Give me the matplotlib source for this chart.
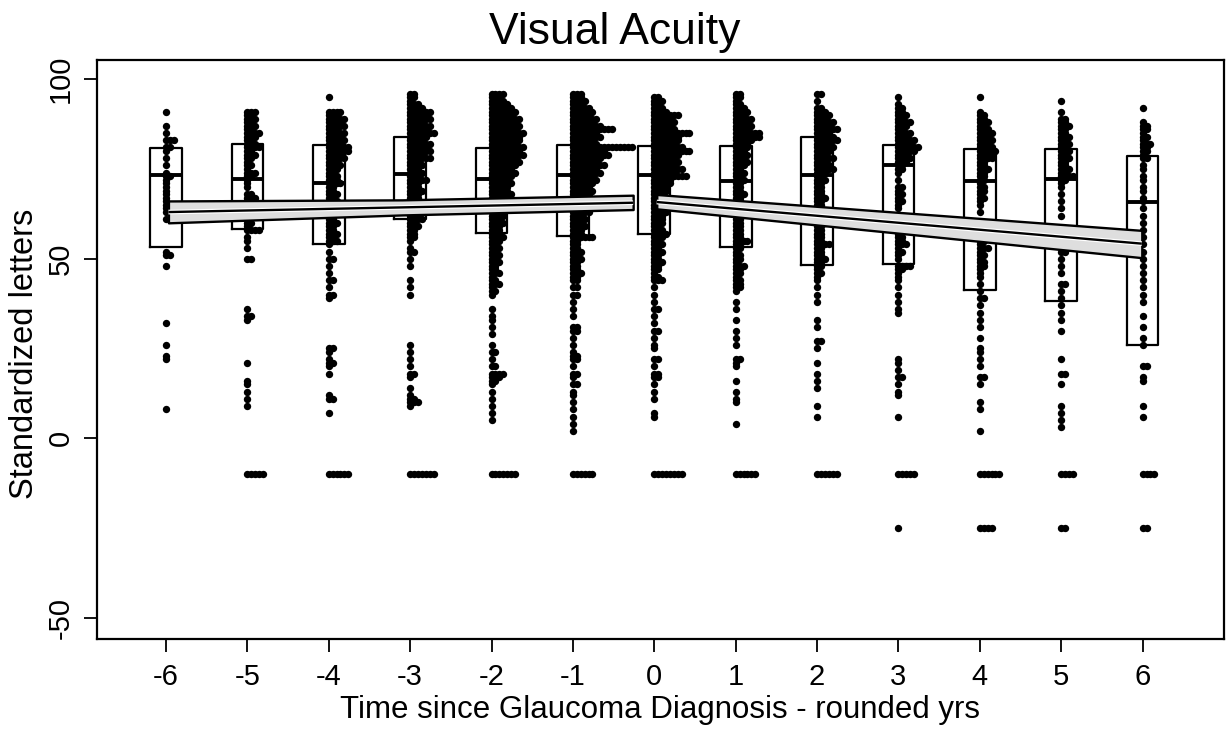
import matplotlib
matplotlib.use('Agg')
import matplotlib.pyplot as plt

plt.rcParams['font.family'] = ['Liberation Sans', 'DejaVu Sans']

# ---------------- data ----------------
years = [-6, -5, -4, -3, -2, -1, 0, 1, 2, 3, 4, 5, 6]

box_q1 = [53.2, 58.2, 54.2, 61.2, 57.2, 56.3, 57.0, 53.2, 48.3, 48.4, 41.3, 38.3, 26.0]
box_med = [73.3, 72.3, 71.0, 73.5, 72.3, 73.3, 73.3, 71.6, 73.3, 76.0, 71.7, 72.3, 65.8]
box_q3 = [80.9, 82.0, 81.6, 83.8, 80.9, 81.6, 81.5, 81.5, 83.8, 81.6, 80.7, 80.7, 78.6]

# (score, number of observations) per rounded year
rows_m6 = [(91,1),(87,1),(85,1),(83,3),(81,2),(80,1),(78,1),(76,1),(74,1),(73,2),(72,1),(71,1),(70,1),(69,1),
           (68,1),(67,1),(66,1),(65,1),(64,1),(63,1),(61,1),(52,1),(51,2),(48,1),(32,1),(26,1),(23,1),(22,1),(8,1)]
rows_m5 = [(91,3),(90,2),(89,3),(88,2),(87,3),(86,2),(85,4),(84,3),(83,2),(82,3),(81,4),(80,2),(79,3),(78,2),
           (77,1),(76,2),(75,1),(74,3),(73,2),(72,1),(71,1),(70,1),(68,2),(67,3),(66,1),(65,2),(64,1),(63,1),
           (62,2),(61,1),(60,2),(59,1),(58,4),(56,1),(55,1),(53,1),(50,2),(36,1),(34,2),(33,1),(21,1),(16,1),
           (15,1),(13,1),(11,1),(9,1),(-10,5)]
rows_m4 = [(95,1),(91,4),(90,3),(89,5),(88,4),(87,5),(86,3),(85,5),(84,4),(83,5),(82,4),(81,6),(80,6),(79,4),
           (78,5),(77,3),(76,4),(75,3),(74,2),(73,3),(72,3),(71,4),(70,2),(69,2),(68,3),(67,2),(66,3),(65,2),
           (64,2),(63,2),(62,2),(61,2),(60,3),(59,2),(58,2),(57,3),(56,2),(55,3),(54,1),(52,1),(50,2),(48,1),
           (46,1),(44,2),(42,1),(40,2),(39,1),(25,2),(24,1),(22,1),(21,2),(20,1),(18,1),(12,1),(11,2),(7,1),(-10,6)]
rows_m3 = [(96,2),(95,2),(94,1),(93,3),(92,4),(91,6),(90,5),(89,6),(88,4),(87,6),(86,5),(85,7),(84,5),(83,4),
           (82,6),(81,5),(80,6),(79,4),(78,6),(77,3),(76,4),(75,3),(74,4),(73,3),(72,5),(71,3),(70,3),(69,4),
           (68,3),(67,3),(66,3),(65,4),(64,3),(63,2),(62,3),(61,4),(60,2),(59,3),(58,2),(57,2),(56,2),(55,1),
           (53,1),(52,2),(50,1),(48,1),(44,1),(42,1),(40,1),(26,1),(24,1),(22,1),(20,1),(18,2),(17,1),(14,1),
           (12,1),(11,2),(10,3),(9,1),(-10,7)]
rows_m2 = [(96,4),(95,3),(94,4),(93,5),(92,6),(91,7),(90,6),(89,8),(88,7),(87,8),(86,7),(85,9),(84,8),(83,8),
           (82,7),(81,9),(80,8),(79,9),(78,7),(77,8),(76,7),(75,6),(74,7),(73,6),(72,5),(71,6),(70,5),(69,5),
           (68,6),(67,5),(66,4),(65,5),(64,4),(63,4),(62,4),(61,3),(60,4),(59,3),(58,3),(57,3),(56,4),(55,3),
           (54,2),(53,3),(52,2),(51,3),(50,2),(49,3),(48,2),(47,2),(46,3),(45,1),(44,2),(43,3),(42,1),(41,2),
           (40,1),(36,1),(34,1),(33,1),(31,1),(29,1),(26,1),(24,2),(22,1),(20,2),(18,4),(17,3),(16,2),(15,1),
           (13,1),(11,1),(9,1),(7,1),(5,1),(-10,7)]
rows_m1 = [(96,3),(95,3),(94,4),(93,3),(92,5),(91,6),(90,5),(89,7),(88,6),(87,8),(86,11),(85,7),(84,8),(83,6),
           (82,7),(81,16),(80,9),(79,10),(78,8),(77,7),(76,9),(75,7),(74,8),(73,6),(72,7),(71,6),(70,5),(69,6),
           (68,5),(67,4),(66,5),(65,4),(64,4),(63,5),(62,3),(61,4),(60,3),(59,4),(58,3),(57,3),(56,6),(55,2),
           (54,2),(53,2),(52,3),(51,2),(50,3),(49,2),(48,2),(47,2),(46,3),(45,2),(44,2),(42,2),(40,2),(38,1),
           (36,1),(34,1),(31,2),(30,2),(28,1),(26,1),(24,1),(23,2),(22,2),(20,1),(18,2),(17,1),(15,2),(13,1),
           (12,1),(10,1),(8,1),(6,1),(4,1),(2,1),(-10,6)]
rows_0 = [(95,2),(94,3),(93,2),(92,3),(91,4),(90,7),(89,5),(88,6),(87,5),(86,6),(85,10),(84,7),(83,7),(82,6),
          (81,8),(80,10),(79,7),(78,6),(77,7),(76,6),(75,8),(74,6),(73,9),(72,5),(71,5),(70,4),(69,4),(68,3),
          (67,4),(66,3),(65,3),(64,3),(63,4),(62,3),(61,3),(60,3),(59,2),(58,3),(57,4),(56,3),(55,2),(54,3),
          (53,2),(52,3),(51,2),(50,2),(49,3),(48,2),(47,2),(46,1),(45,2),(44,3),(42,1),(40,1),(38,1),(36,2),
          (34,1),(32,1),(30,2),(28,1),(26,1),(25,1),(22,2),(20,1),(18,2),(17,2),(15,1),(13,1),(11,1),(7,1),
          (6,1),(-10,8)]
rows_p1 = [(96,2),(95,2),(94,1),(93,2),(92,3),(91,4),(90,3),(89,5),(88,4),(87,5),(86,4),(85,7),(84,7),(83,5),
           (82,4),(81,4),(80,3),(79,4),(78,3),(77,4),(76,3),(75,2),(74,3),(73,2),(72,3),(71,2),(70,2),(69,2),
           (68,3),(67,2),(66,2),(65,2),(64,3),(63,2),(62,2),(61,2),(60,2),(59,2),(58,2),(57,2),(56,2),(55,4),
           (54,2),(53,2),(52,1),(51,2),(50,2),(49,1),(48,3),(47,2),(46,2),(45,1),(44,2),(43,2),(42,2),(41,1),
           (38,1),(36,1),(33,1),(30,1),(28,1),(26,1),(22,2),(21,1),(20,1),(16,1),(13,1),(11,1),(10,1),(4,1),(-10,6)]
rows_p2 = [(96,2),(94,1),(92,2),(91,3),(90,4),(89,3),(88,5),(87,4),(86,6),(85,4),(84,5),(83,6),(82,4),(81,5),
           (80,4),(79,3),(78,5),(77,3),(76,4),(75,5),(74,3),(73,2),(72,3),(71,2),(70,2),(69,2),(68,2),(67,3),
           (66,2),(65,2),(64,2),(63,2),(62,2),(61,2),(60,3),(59,2),(58,2),(57,2),(56,2),(55,2),(54,4),(53,2),
           (52,2),(51,2),(50,3),(49,2),(48,2),(47,1),(46,2),(45,1),(44,1),(42,1),(40,1),(38,1),(33,1),(31,1),
           (27,2),(25,1),(21,1),(18,1),(16,1),(14,1),(9,1),(6,1),(-10,6)]
rows_p3 = [(95,1),(93,1),(92,2),(91,2),(90,3),(89,2),(88,4),(87,3),(86,2),(85,4),(84,3),(83,5),(82,4),(81,6),
           (80,5),(79,3),(78,4),(77,3),(76,2),(75,2),(74,1),(72,1),(70,2),(69,1),(68,2),(67,1),(66,2),(65,1),
           (64,1),(62,2),(61,1),(60,1),(59,1),(58,2),(57,1),(56,2),(55,2),(54,3),(53,1),(52,2),(51,1),(50,1),
           (48,4),(47,2),(46,1),(45,1),(44,1),(42,1),(40,1),(38,1),(36,1),(35,1),(22,1),(21,1),(19,1),(17,2),
           (15,1),(13,1),(12,1),(6,1),(-10,5),(-25,1)]
rows_p4 = [(95,1),(91,1),(90,2),(89,2),(88,3),(87,2),(86,3),(85,4),(84,3),(83,4),(82,3),(81,4),(80,5),(79,4),
           (78,4),(77,2),(76,2),(75,3),(74,2),(73,2),(72,2),(71,1),(70,2),(69,2),(68,1),(67,2),(66,1),(65,1),
           (63,1),(60,1),(57,1),(55,2),(54,1),(53,3),(52,1),(51,2),(50,1),(49,2),(48,2),(47,1),(46,1),(45,1),
           (43,1),(41,1),(39,2),(37,1),(35,1),(33,1),(31,1),(28,1),(25,1),(24,1),(22,1),(20,1),(17,2),(15,1),
           (10,1),(8,1),(2,1),(-10,6),(-25,4)]
rows_p5 = [(94,1),(91,1),(89,2),(88,2),(87,3),(86,2),(85,2),(84,3),(83,2),(82,3),(81,2),(80,3),(79,2),(78,3),
           (77,2),(76,2),(75,3),(74,2),(73,4),(72,2),(71,1),(70,1),(68,1),(66,1),(64,1),(62,1),(58,1),(56,1),
           (54,1),(52,2),(50,1),(48,1),(46,1),(43,2),(41,1),(39,1),(37,1),(35,1),(33,1),(30,1),(22,1),(18,2),
           (15,1),(9,1),(7,1),(5,1),(3,1),(-10,4),(-25,2)]
rows_p6 = [(92,1),(88,1),(87,2),(86,2),(85,1),(84,2),(83,1),(82,3),(81,2),(80,2),(79,1),(78,2),(76,1),(75,1),
           (73,1),(72,1),(70,1),(69,1),(67,1),(66,1),(64,1),(62,1),(60,1),(58,1),(56,1),(54,1),(52,1),(50,1),
           (48,1),(46,1),(44,1),(42,1),(40,1),(38,1),(34,1),(31,1),(28,1),(26,1),(20,2),(17,1),(16,1),(9,1),
           (6,1),(-10,4),(-25,2)]

all_rows = [rows_m6, rows_m5, rows_m4, rows_m3, rows_m2, rows_m1, rows_0,
            rows_p1, rows_p2, rows_p3, rows_p4, rows_p5, rows_p6]

# fitted lines with confidence bands (before / after diagnosis)
pre_x = [-5.97, -3.1, -0.26]
pre_fit = [63.0, 64.3, 65.6]
pre_lo = [60.0, 62.2, 63.7]
pre_hi = [66.1, 66.4, 67.7]
post_x = [0.03, 5.99]
post_fit = [65.8, 54.2]
post_lo = [63.9, 50.3]
post_hi = [67.9, 57.9]

xtick_labels = [str(y) for y in years]
ytick_vals = [-50, 0, 50, 100]

# ---------------- figure ----------------
W, H = 1230, 735
fig = plt.figure(figsize=(W / 100, H / 100), dpi=100)
L, R, T, B = 96.5, 1224, 59.5, 638.5
ax = fig.add_axes([L / W, 1 - B / H, (R - L) / W, (B - T) / H])
ax.set_xlim(-6.854, 7.0)
ax.set_ylim(-55.8, 105.5)

# boxes (no whiskers)
stats = [dict(med=m, q1=a, q3=b, whislo=a, whishi=b, fliers=[])
         for a, m, b in zip(box_q1, box_med, box_q3)]
ax.bxp(stats, positions=years, widths=0.39, showcaps=False, showfliers=False,
       boxprops=dict(color='black', linewidth=1.6),
       medianprops=dict(color='black', linewidth=2.8),
       whiskerprops=dict(linewidth=0), manage_ticks=False, zorder=2)

# stacked points
sp = 0.048
xs, ys = [], []
for yr, rows in zip(years, all_rows):
    for v, n in rows:
        for i in range(n):
            xs.append(yr + i * sp)
            ys.append(v)
ax.plot(xs, ys, 'o', color='black', ms=5.3, mew=0, zorder=3)

# fitted lines with confidence bands
for fx, ff, flo, fhi in [(pre_x, pre_fit, pre_lo, pre_hi), (post_x, post_fit, post_lo, post_hi)]:
    ax.fill_between(fx, flo, fhi, facecolor='#dedede', edgecolor='black', linewidth=1.7, zorder=4)
    ax.plot(fx, ff, color='white', linewidth=3.4, zorder=5, solid_capstyle='butt')
    ax.plot(fx, ff, color='black', linewidth=1.7, zorder=6, solid_capstyle='butt')

# axes styling
for s in ax.spines.values():
    s.set_linewidth(1.6)
ax.set_xticks(years)
ax.set_xticklabels(xtick_labels)
ax.set_yticks(ytick_vals)
ax.set_yticklabels([str(v) for v in ytick_vals], rotation=90, va='center')
ax.tick_params(axis='both', length=9.4, width=1.3, labelsize=21)
ax.tick_params(axis='x', pad=8)
ax.tick_params(axis='y', pad=6.5)

ax.set_xlabel('Time since Glaucoma Diagnosis - rounded yrs', fontsize=22.5)
ax.xaxis.set_label_coords(0.5, (B - 718) / (B - T))
ax.xaxis.label.set_va('baseline')
ax.set_ylabel('Standardized letters', fontsize=23.5)
ax.yaxis.set_label_coords((25 - L) / (R - L), (B - 354) / (B - T))
ax.yaxis.label.set_va('center')

fig.text(0.5, 1 - 44 / H, 'Visual Acuity', ha='center', va='baseline', fontsize=32)

fig.savefig('out.png', dpi=100)
